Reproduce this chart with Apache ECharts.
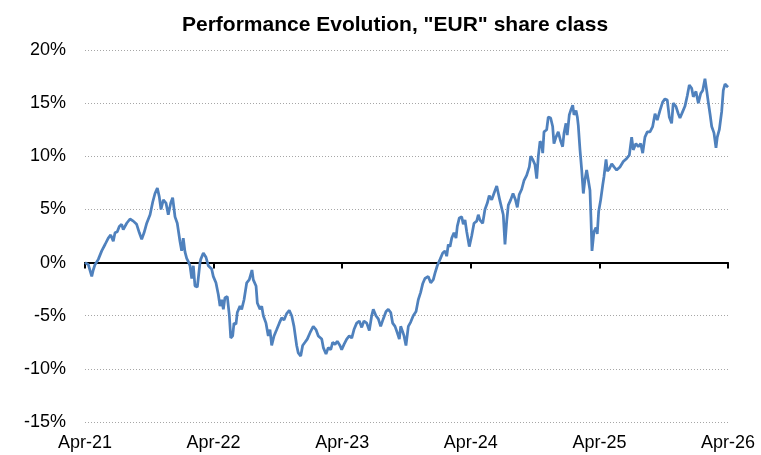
<!DOCTYPE html>
<html>
<head>
<meta charset="utf-8">
<script src="https://cdn.jsdelivr.net/npm/echarts@6/dist/echarts.min.js"></script>
<style>
  html, body { margin: 0; padding: 0; background: #fff; }
  #chart { width: 761px; height: 455px; }
</style>
</head>
<body>
<div id="chart"></div>
<script>
// months since Apr-21 (x) and cumulative performance in % (y)
const months = [
  0.00, 0.31, 0.63, 0.77, 0.93, 1.24, 1.56, 1.87, 2.17, 2.40, 2.64, 2.80, 3.01, 3.20, 3.42, 3.57,
  3.89, 4.20, 4.51, 4.82, 5.07, 5.29, 5.51, 5.76, 6.07, 6.32, 6.53, 6.75, 6.93, 7.09, 7.31, 7.56,
  7.77, 8.00, 8.18, 8.40, 8.61, 8.86, 9.02, 9.17, 9.33, 9.49, 9.64, 9.80, 9.96, 10.11, 10.26, 10.48,
  10.57, 10.73, 10.80, 11.04, 11.29, 11.51, 11.82, 11.97, 12.22, 12.44, 12.60, 12.76, 12.91, 13.06, 13.28, 13.47,
  13.60, 13.78, 13.90, 14.09, 14.21, 14.46, 14.62, 14.84, 15.09, 15.33, 15.58, 15.70, 15.96, 16.08, 16.33, 16.49,
  16.64, 16.89, 17.10, 17.26, 17.42, 17.64, 17.89, 18.13, 18.35, 18.57, 18.82, 19.06, 19.29, 19.50, 19.75, 19.90,
  20.13, 20.31, 20.53, 20.74, 21.00, 21.30, 21.55, 21.77, 22.09, 22.24, 22.49, 22.70, 22.93, 23.11, 23.33, 23.54,
  23.79, 23.95, 24.17, 24.42, 24.66, 24.89, 25.10, 25.35, 25.60, 25.82, 26.03, 26.29, 26.53, 26.75, 26.90, 27.15,
  27.37, 27.59, 27.83, 28.09, 28.30, 28.53, 28.71, 28.93, 29.14, 29.33, 29.46, 29.64, 29.77, 29.95, 30.17, 30.39,
  30.63, 30.89, 31.10, 31.32, 31.51, 31.72, 32.03, 32.26, 32.50, 32.66, 32.87, 33.13, 33.38, 33.59, 33.75, 33.90,
  34.06, 34.22, 34.43, 34.62, 34.74, 34.93, 35.15, 35.30, 35.46, 35.62, 35.86, 36.08, 36.30, 36.55, 36.70, 36.86,
  37.11, 37.32, 37.54, 37.72, 37.95, 38.16, 38.42, 38.57, 38.72, 38.88, 39.03, 39.19, 39.35, 39.50, 39.72, 39.94,
  40.17, 40.34, 40.52, 40.75, 40.96, 41.21, 41.46, 41.59, 41.78, 41.99, 42.15, 42.30, 42.46, 42.61, 42.71, 42.83,
  43.08, 43.23, 43.45, 43.64, 43.76, 43.95, 44.16, 44.39, 44.57, 44.70, 44.88, 45.00, 45.19, 45.32, 45.51, 45.63,
  45.82, 45.94, 46.03, 46.19, 46.35, 46.50, 46.65, 46.81, 46.96, 47.12, 47.21, 47.31, 47.49, 47.68, 47.80, 47.93,
  48.12, 48.31, 48.43, 48.62, 48.74, 48.92, 49.15, 49.36, 49.61, 49.92, 50.23, 50.55, 50.79, 51.01, 51.16, 51.41,
  51.63, 51.85, 52.04, 52.25, 52.47, 52.72, 52.97, 53.19, 53.40, 53.65, 53.90, 54.12, 54.33, 54.52, 54.74, 54.89,
  55.14, 55.36, 55.52, 55.77, 55.98, 56.20, 56.39, 56.61, 56.76, 57.01, 57.23, 57.45, 57.64, 57.85, 58.01, 58.16,
  58.32, 58.48, 58.69, 58.88, 59.00, 59.19, 59.41, 59.56, 59.72, 59.90, 60.00
];
const performance = [
  0.0, -0.2, -1.3, -0.7, -0.2, 0.3, 1.1, 1.7, 2.3, 2.6, 2.0, 2.8, 2.9, 3.4, 3.6, 3.1,
  3.7, 4.1, 3.9, 3.6, 2.8, 2.2, 2.8, 3.7, 4.5, 5.7, 6.5, 7.0, 6.2, 5.0, 5.9, 5.6,
  4.5, 5.6, 6.1, 4.3, 3.7, 2.0, 1.1, 2.3, 1.0, 0.4, 0.1, -0.3, -1.5, -0.3, -2.2, -2.3,
  -1.5, 0.0, 0.3, 0.9, 0.5, -0.3, -0.6, -1.3, -1.9, -3.0, -4.1, -3.5, -4.4, -3.3, -3.2, -5.0,
  -7.1, -6.9, -5.7, -5.8, -4.7, -4.1, -4.4, -3.5, -1.9, -1.6, -0.7, -1.6, -2.2, -3.8, -4.4, -4.1,
  -5.0, -5.7, -6.9, -6.3, -7.8, -6.9, -6.3, -5.7, -5.2, -5.4, -4.8, -4.5, -5.0, -6.0, -7.8, -8.5,
  -8.8, -7.8, -7.5, -7.2, -6.6, -6.0, -6.3, -6.9, -7.2, -8.0, -8.6, -8.0, -8.2, -7.5, -7.7, -7.4,
  -7.8, -8.2, -7.7, -7.2, -6.9, -7.1, -6.3, -5.7, -5.5, -6.1, -5.5, -5.7, -6.4, -5.0, -4.4, -5.0,
  -5.3, -6.0, -5.3, -4.6, -4.4, -4.7, -5.7, -6.0, -6.6, -7.2, -6.0, -6.5, -6.9, -7.8, -6.0, -5.6,
  -5.0, -4.6, -3.5, -2.8, -2.0, -1.5, -1.3, -1.9, -1.6, -1.0, -0.3, 0.3, 0.9, 1.1, 0.6, 1.7,
  1.5, 2.3, 2.8, 2.3, 3.4, 4.2, 4.3, 3.6, 4.0, 2.9, 1.5, 2.5, 3.7, 3.9, 4.5, 4.0,
  3.7, 5.0, 5.6, 6.3, 5.9, 6.5, 7.2, 6.5, 5.8, 5.9, 4.5, 1.7, 3.9, 5.4, 5.9, 6.5,
  5.9, 5.2, 6.4, 6.9, 7.7, 8.2, 9.0, 10.0, 9.7, 9.2, 7.9, 10.0, 11.4, 11.2, 10.3, 12.3,
  12.5, 13.7, 13.6, 12.8, 11.2, 11.8, 12.3, 11.4, 10.9, 12.2, 13.1, 12.0, 13.9, 14.3, 14.8, 13.9,
  14.3, 13.7, 12.9, 10.6, 8.7, 6.5, 7.8, 8.7, 7.8, 6.8, 4.3, 1.1, 2.9, 3.3, 2.7, 4.8,
  5.9, 7.3, 8.1, 9.7, 8.6, 8.8, 9.3, 9.0, 8.7, 9.0, 9.5, 9.8, 10.1, 11.8, 10.6, 11.2,
  10.9, 11.2, 10.3, 11.8, 12.3, 12.3, 12.8, 14.0, 13.4, 14.3, 15.1, 15.4, 15.3, 13.7, 13.1, 15.0,
  14.7, 14.0, 13.6, 14.2, 14.7, 15.7, 16.7, 16.4, 15.6, 16.1, 15.0, 15.9, 16.2, 17.3, 16.2, 15.1,
  14.0, 12.8, 12.2, 10.8, 11.8, 12.5, 14.2, 16.2, 16.8, 16.9, 16.5
];
const xTickLabels = ['Apr-21', 'Apr-22', 'Apr-23', 'Apr-24', 'Apr-25', 'Apr-26'];
const yMin = -15, yMax = 20, yStep = 5;

const FONT = 'Liberation Sans, Arial, sans-serif';
const chart = echarts.init(document.getElementById('chart'));

const points = months.map((m, i) => [m, performance[i]]);

chart.setOption({
  animation: false,
  backgroundColor: '#ffffff',
  title: {
    text: 'Performance Evolution, "EUR" share class',
    left: 177,
    top: 10,
    textStyle: { fontFamily: FONT, fontSize: 21, fontWeight: 'bold', color: '#000' }
  },
  grid: { left: 85, right: 33, top: 50, bottom: 33 },
  xAxis: [
    {
      // line through 0% with year ticks
      type: 'value',
      min: 0, max: 60, interval: 12,
      axisLine: { onZero: true, lineStyle: { color: '#000', width: 2 } },
      axisTick: { show: true, length: 6, lineStyle: { color: '#000', width: 2 } },
      axisLabel: { show: false },
      splitLine: { show: false }
    },
    {
      // labels sitting under the plot
      type: 'value',
      position: 'bottom',
      min: 0, max: 60, interval: 12,
      axisLine: { show: false, onZero: false },
      axisTick: { show: false },
      splitLine: { show: false },
      axisLabel: {
        margin: 12,
        fontFamily: FONT, fontSize: 18, color: '#000',
        formatter: v => xTickLabels[Math.round(v / 12)] || ''
      }
    }
  ],
  yAxis: {
    type: 'value',
    min: yMin, max: yMax, interval: yStep,
    axisLine: { show: false },
    axisTick: { show: false },
    axisLabel: {
      margin: 19,
      fontFamily: FONT, fontSize: 18, color: '#000',
      formatter: v => v + '%'
    },
    splitLine: {
      show: true,
      lineStyle: { type: [1, 2], width: 1, color: '#a6a6a6' }
    }
  },
  series: [
    {
      type: 'line',
      xAxisIndex: 0,
      data: points,
      showSymbol: false,
      symbol: 'none',
      lineStyle: { color: '#4F81BD', width: 2.75 },
      z: 3
    }
  ]
});
</script>
</body>
</html>
